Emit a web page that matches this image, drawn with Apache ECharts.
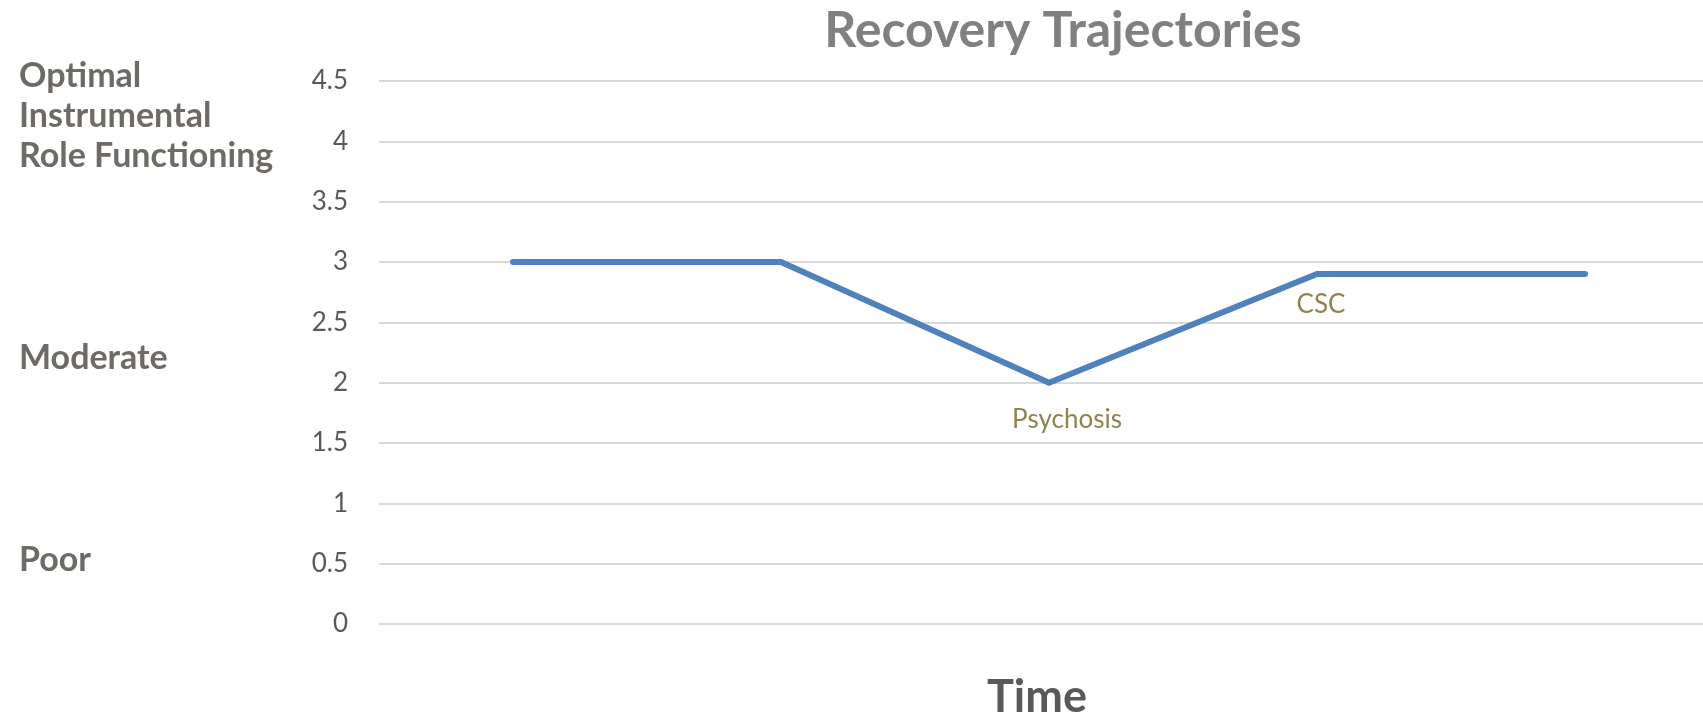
<!DOCTYPE html>
<html>
<head>
<meta charset="utf-8">
<script src="https://cdn.jsdelivr.net/npm/echarts@6/dist/echarts.min.js"></script>
<style>
html,body{margin:0;padding:0;background:#fff;}
#chart{width:1703px;height:714px;}
</style>
</head>
<body>
<div id="chart"></div>
<script>
const categories = ['T1', 'T2', 'T3', 'T4', 'T5'];
const values = [3, 3, 2, 2.9, 2.9];
const annotations = ['', '', 'Psychosis', 'CSC', ''];
const levelLabels = ['Optimal\nInstrumental\nRole Functioning', 'Moderate', 'Poor'];
const titleText = 'Recovery Trajectories';
const xName = 'Time';

const annOffsets = { 2: [18, 0], 3: [4, 0] };
const annDistance = { 2: 23, 3: 17 };

const chart = echarts.init(document.getElementById('chart'));
const data = values.map((v, i) => {
  const item = { value: v };
  if (annotations[i]) {
    item.label = {
      show: true,
      formatter: annotations[i],
      position: 'bottom',
      distance: annDistance[i],
      offset: annOffsets[i],
      color: '#8F8450',
      fontFamily: 'Lato',
      fontSize: 26
    };
  }
  return item;
});

chart.setOption({
  animation: false,
  backgroundColor: '#ffffff',
  title: {
    text: titleText,
    left: 1058,
    top: 1,
    textAlign: 'center',
    textStyle: { fontFamily: 'Lato', fontWeight: 'bold', fontSize: 50, color: '#808080' }
  },
  grid: { left: 379, width: 1340, top: 81, bottom: 90, containLabel: false, outerBoundsMode: 'none' },
  xAxis: {
    type: 'category',
    data: categories,
    boundaryGap: true,
    axisLine: { show: false },
    axisTick: { show: false },
    axisLabel: { show: false },
    name: xName,
    nameLocation: 'middle',
    nameGap: 51,
    nameTextStyle: { fontFamily: 'Lato', fontWeight: 'bold', fontSize: 45, color: '#595959', padding: [0, 24, 0, 0] }
  },
  yAxis: {
    type: 'value',
    min: 0,
    max: 4.5,
    interval: 0.5,
    axisLine: { show: false },
    axisTick: { show: false },
    axisLabel: { fontFamily: 'Lato', fontSize: 26, color: '#595959', margin: 31 },
    splitLine: { lineStyle: { color: '#D9D9D9', width: 2 } }
  },
  graphic: [
    { type: 'text', left: 19, top: 56, style: { text: levelLabels[0], font: 'bold 34px Lato', fill: '#6E6A65', lineHeight: 40 } },
    { type: 'text', left: 19, top: 341, style: { text: levelLabels[1], font: 'bold 34px Lato', fill: '#6E6A65' } },
    { type: 'text', left: 19, top: 543, style: { text: levelLabels[2], font: 'bold 34px Lato', fill: '#6E6A65' } }
  ],
  series: [{
    type: 'line',
    data: data,
    symbol: 'circle',
    symbolSize: 1,
    showSymbol: true,
    itemStyle: { color: 'rgba(0,0,0,0)' },
    lineStyle: { color: '#4F81BD', width: 6, cap: 'round', join: 'miter' },
    label: { show: false }
  }]
});
</script>
</body>
</html>
